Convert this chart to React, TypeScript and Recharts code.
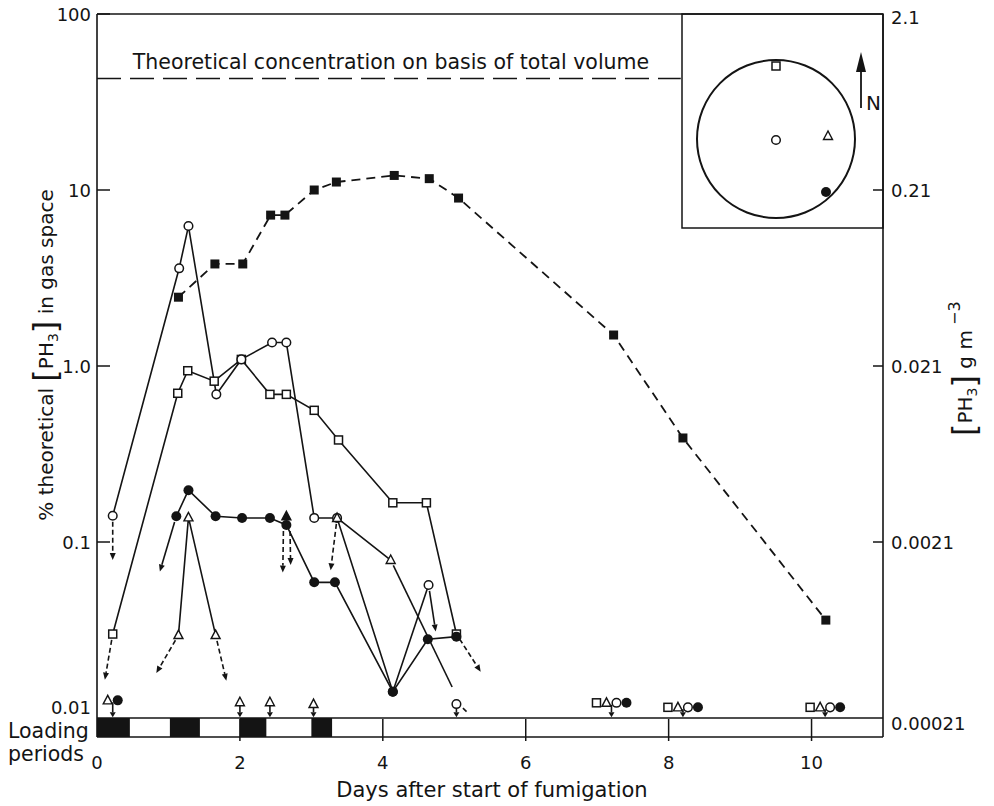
import React from "react";
import {
  ComposedChart,
  Line,
  Scatter,
  XAxis,
  YAxis,
  ReferenceLine,
  ReferenceArea,
  Customized,
} from "recharts";

const FONT = "'DejaVu Sans', 'Liberation Sans', sans-serif";
const INK = "#141414";

// days after start of fumigation / % of theoretical PH3 in gas space
const blackSquareDays = [1.14, 1.65, 2.04, 2.43, 2.63, 3.04, 3.35, 4.16, 4.65, 5.06, 7.23, 8.2, 10.2];
const blackSquareValues = [2.46, 3.8, 3.8, 7.2, 7.2, 10.0, 11.1, 12.1, 11.6, 9.0, 1.5, 0.39, 0.036];

const circleDays = [0.22, 1.15, 1.28, 1.67, 2.02, 2.45, 2.65, 3.04, 3.36, 4.14, 4.64];
const circleValues = [0.141, 3.59, 6.24, 0.69, 1.09, 1.36, 1.36, 0.137, 0.137, 0.0141, 0.057];

const squareDays = [0.22, 1.13, 1.27, 1.64, 2.02, 2.42, 2.65, 3.04, 3.38, 4.14, 4.61, 5.03];
const squareValues = [0.03, 0.7, 0.94, 0.82, 1.09, 0.69, 0.69, 0.56, 0.38, 0.167, 0.167, 0.03];

const triangleDays = [1.14, 1.28, 1.66, 2.2, 2.65, 3.0, 3.36, 4.11];
const triangleValues = [0.0296, 0.138, 0.0296, null, 0.14, null, 0.137, 0.079];
const triangleFilled = [false, false, false, false, true, false, false, false];

const dotDays = [1.11, 1.28, 1.66, 2.03, 2.42, 2.65, 3.04, 3.33, 4.14, 4.63, 5.03];
const dotValues = [0.14, 0.197, 0.14, 0.137, 0.137, 0.125, 0.059, 0.059, 0.0141, 0.028, 0.029];

// samples below detection limit
const ndDays = [0.22, 2.0, 2.42, 3.03, 5.03, 7.2, 8.2, 10.19];
const ndLevels = [0.0126, 0.0123, 0.0123, 0.012, 0.012, 0.0122, 0.0115, 0.0115];
const ndSymbols = [
  ["triangle", "dot"],
  ["triangle"],
  ["triangle"],
  ["triangle"],
  ["circle"],
  ["square", "triangle", "circle", "dot"],
  ["square", "triangle", "circle", "dot"],
  ["square", "triangle", "circle", "dot"],
];

// falls towards the detection limit
const arrowFromDays = [0.22, 0.22, 1.11, 1.14, 1.66, 2.61, 2.7, 3.36, 4.64, 4.11, 5.03, 5.06];
const arrowFromValues = [0.141, 0.03, 0.14, 0.0296, 0.0296, 0.125, 0.125, 0.137, 0.057, 0.079, 0.03, 0.012];
const arrowToDays = [0.22, 0.11, 0.88, 0.83, 1.81, 2.6, 2.71, 3.27, 4.74, 4.97, 5.37, 5.2];
const arrowToValues = [0.079, 0.0165, 0.068, 0.018, 0.0163, 0.067, 0.074, 0.069, 0.031, 0.015, 0.0183, 0.0106];
const arrowDashed = [true, true, false, true, true, true, true, true, false, false, true, true];
const arrowHead = [true, true, true, true, true, true, true, true, true, false, true, false];

// loading periods (days)
const loadStart = [0, 1.02, 2.0, 3.0];
const loadEnd = [0.46, 1.44, 2.37, 3.29];

const theoretical = 43;
const leftTicks = [0.01, 0.1, 1, 10, 100];
const leftTickLabels = ["0.01", "0.1", "1.0", "10", "100"];
const rightTicks = [0.00021, 0.0021, 0.021, 0.21, 2.1];
const rightTickLabels = ["0.00021", "0.0021", "0.021", "0.21", "2.1"];
const dayTicks = [0, 2, 4, 6, 8, 10];

const yMin = 0.0078;
const yMax = 100;

const toPoints = (xs: number[], ys: (number | null)[]) => xs.map((x, i) => ({ x, y: ys[i] }));

const blackSquareData = toPoints(blackSquareDays, blackSquareValues);
const circleData = toPoints(circleDays, circleValues);
const squareData = toPoints(squareDays, squareValues);
const triangleData = triangleDays.map((x, i) => ({ x, y: triangleValues[i], filled: triangleFilled[i] }));
const dotData = toPoints(dotDays, dotValues);
const ndData = ndDays.map((x, i) => ({ x, y: ndLevels[i], syms: ndSymbols[i] }));

const Marker = ({ kind, cx, cy }: any) => {
  if (kind === "circle")
    return <circle cx={cx} cy={cy} r={4.3} fill="#fff" stroke={INK} strokeWidth={1.5} />;
  if (kind === "dot") return <circle cx={cx} cy={cy} r={5} fill={INK} />;
  if (kind === "square")
    return <rect x={cx - 4} y={cy - 4} width={8} height={8} fill="#fff" stroke={INK} strokeWidth={1.5} />;
  if (kind === "blacksquare")
    return <rect x={cx - 4.5} y={cy - 4.5} width={9} height={9} fill={INK} />;
  return (
    <polygon
      points={`${cx},${cy - 5} ${cx - 4.5},${cy + 3.5} ${cx + 4.5},${cy + 3.5}`}
      fill={kind === "filledtriangle" ? INK : "#fff"}
      stroke={INK}
      strokeWidth={1.4}
    />
  );
};

const makeDot = (kind: string) => (p: any) => {
  if (p.cy == null || p.value == null) return <g key={`e-${kind}-${p.index}`} />;
  const k = kind === "triangle" && p.payload && p.payload.filled ? "filledtriangle" : kind;
  return <Marker key={`m-${kind}-${p.index}`} kind={k} cx={p.cx} cy={p.cy} />;
};

const NdGroup = (p: any) => {
  const syms: string[] = p.payload.syms;
  const start = p.cx - ((syms.length - 1) * 10) / 2;
  return (
    <g>
      {syms.map((s, i) => (
        <Marker key={i} kind={s} cx={start + i * 10} cy={p.cy} />
      ))}
    </g>
  );
};

const ArrowShape = ({ x1, y1, x2, y2, dashed, head, trim, headLen = 7 }: any) => {
  const dx = x2 - x1;
  const dy = y2 - y1;
  const len = Math.hypot(dx, dy) || 1;
  const ux = dx / len;
  const uy = dy / len;
  const sx = x1 + ux * trim;
  const sy = y1 + uy * trim;
  const hl = head ? headLen : 0;
  const ex = x2 - ux * hl;
  const ey = y2 - uy * hl;
  return (
    <g>
      <line
        x1={sx}
        y1={sy}
        x2={ex}
        y2={ey}
        stroke={INK}
        strokeWidth={1.6}
        strokeDasharray={dashed ? "5 3" : undefined}
      />
      {head && (
        <polygon
          points={`${x2},${y2} ${ex - uy * 3},${ey + ux * 3} ${ex + uy * 3},${ey - ux * 3}`}
          fill={INK}
        />
      )}
    </g>
  );
};

const LeftTick = (props: any) => {
  const { x, y, payload } = props;
  const i = leftTicks.findIndex((t) => Math.abs(t - payload.value) / t < 1e-6);
  const axisX = x + 5;
  return (
    <g>
      {i > 0 && <line x1={axisX} x2={axisX + 13} y1={y} y2={y} stroke={INK} strokeWidth={1.5} />}
      <text x={x - 1} y={i === 0 ? y - 4 : y + 6.5} textAnchor="end" fontSize={18} fontFamily={FONT} fill={INK}>
        {leftTickLabels[i]}
      </text>
    </g>
  );
};

const RightTick = (props: any) => {
  const { x, y, payload } = props;
  const i = rightTicks.findIndex((t) => Math.abs(t - payload.value) / t < 1e-6);
  const axisX = x - 8;
  return (
    <g>
      {i > 0 && i < rightTicks.length - 1 && (
        <line x1={axisX - 10} x2={axisX} y1={y} y2={y} stroke={INK} strokeWidth={1.5} />
      )}
      <text x={x} y={y + (i === 0 ? 12 : i === rightTicks.length - 1 ? 10 : 7)} textAnchor="start" fontSize={18} fontFamily={FONT} fill={INK}>
        {rightTickLabels[i]}
      </text>
    </g>
  );
};

const BottomTick = (props: any) => {
  const { x, y, payload } = props;
  return (
    <g>
      {payload.value > 0 && <line x1={x} x2={x} y1={y - 18} y2={y + 4} stroke={INK} strokeWidth={1.5} />}
      <text x={x} y={y + 32} textAnchor="middle" fontSize={18} fontFamily={FONT} fill={INK}>
        {payload.value}
      </text>
    </g>
  );
};

const Overlay = () => (
  <g fontFamily={FONT} fill={INK}>
    <text x={391} y={69} textAnchor="middle" fontSize={20.5}>
      Theoretical concentration on basis of total volume
    </text>
    <text x={492} y={797} textAnchor="middle" fontSize={21}>
      Days after start of fumigation
    </text>
    <text x={8} y={738} fontSize={20.5}>
      Loading
    </text>
    <text x={8} y={761} fontSize={20.5}>
      periods
    </text>
    <text transform="translate(53,355) rotate(-90)" textAnchor="middle" fontSize={20}>
      % theoretical <tspan fontSize={32} dy={3}>[</tspan>
      <tspan dy={-3}>PH</tspan>
      <tspan fontSize={14} dy={5}>3</tspan>
      <tspan fontSize={32} dy={-2}>]</tspan>
      <tspan dy={-3}> in gas space</tspan>
    </text>
    <text transform="translate(972,436) rotate(-90)" textAnchor="start" fontSize={20}>
      <tspan fontSize={32} dy={3}>[</tspan>
      <tspan dy={-3}>PH</tspan>
      <tspan fontSize={14} dy={5}>3</tspan>
      <tspan fontSize={32} dy={-2}>]</tspan>
      <tspan dy={-3}> g m</tspan>
      <tspan fontSize={16} dy={-12}> −3</tspan>
    </text>
    {/* site map inset */}
    <rect x={682} y={14} width={201} height={214} fill="#fff" stroke={INK} strokeWidth={1.5} />
    <circle cx={776} cy={139} r={79} fill="none" stroke={INK} strokeWidth={2} />
    <Marker kind="square" cx={776} cy={66} />
    <Marker kind="circle" cx={776} cy={140} />
    <Marker kind="triangle" cx={828} cy={136} />
    <Marker kind="dot" cx={826} cy={192} />
    <line x1={861} x2={861} y1={68} y2={108} stroke={INK} strokeWidth={1.8} />
    <polygon points="861,52 856,72 866,72" fill={INK} />
    <text x={866} y={110} fontSize={20}>
      N
    </text>
  </g>
);

export default function App() {
  return (
    <div style={{ position: "absolute", left: 0, top: 0, width: 994, height: 806, background: "#fff" }}>
      <ComposedChart width={994} height={806} margin={{ top: 14, right: 21, bottom: 29, left: 47 }}>
        <XAxis
          dataKey="x"
          type="number"
          domain={[0, 11]}
          ticks={dayTicks}
          allowDataOverflow
          height={40}
          tickSize={0}
          tickMargin={0}
          tick={<BottomTick />}
          axisLine={{ stroke: INK, strokeWidth: 1.6 }}
        />
        <YAxis
          type="number"
          scale="log"
          domain={[yMin, yMax]}
          ticks={leftTicks}
          allowDataOverflow
          width={50}
          tickSize={0}
          tickMargin={5}
          tick={<LeftTick />}
          axisLine={{ stroke: INK, strokeWidth: 1.6 }}
        />
        <YAxis
          yAxisId="right"
          orientation="right"
          type="number"
          scale="log"
          domain={[yMin * 0.021, yMax * 0.021]}
          ticks={rightTicks}
          allowDataOverflow
          width={90}
          tickSize={0}
          tickMargin={8}
          tick={<RightTick />}
          axisLine={{ stroke: INK, strokeWidth: 1.6 }}
        />
        {loadStart.map((s, i) => (
          <ReferenceArea
            key={`load-${i}`}
            x1={s}
            x2={loadEnd[i]}
            y1={yMin}
            y2={0.01}
            fill={INK}
            fillOpacity={1}
            stroke="none"
            ifOverflow="visible"
          />
        ))}
        <ReferenceLine y={0.01} stroke={INK} strokeWidth={1.6} ifOverflow="visible" />
        <ReferenceLine y={yMax} stroke={INK} strokeWidth={1.6} ifOverflow="visible" />
        <ReferenceLine
          segment={[
            { x: 0, y: theoretical },
            { x: 8.17, y: theoretical },
          ]}
          stroke={INK}
          strokeWidth={1.6}
          strokeDasharray="24 9"
          ifOverflow="visible"
        />
        {arrowFromDays.map((x, i) => (
          <ReferenceLine
            key={`arrow-${i}`}
            segment={[
              { x, y: arrowFromValues[i] },
              { x: arrowToDays[i], y: arrowToValues[i] },
            ]}
            ifOverflow="visible"
            shape={(p: any) => (
              <ArrowShape {...p} dashed={arrowDashed[i]} head={arrowHead[i]} trim={6} />
            )}
          />
        ))}
        {ndDays.map((x, i) => (
          <ReferenceLine
            key={`nd-${i}`}
            segment={[
              { x, y: ndLevels[i] },
              { x, y: 0.0101 },
            ]}
            ifOverflow="visible"
            shape={(p: any) => <ArrowShape {...p} dashed={false} head trim={2} headLen={5} />}
          />
        ))}
        <Line
          data={blackSquareData}
          dataKey="y"
          type="linear"
          stroke={INK}
          strokeWidth={1.8}
          strokeDasharray="9 6"
          dot={makeDot("blacksquare")}
          activeDot={false}
          isAnimationActive={false}
        />
        <Line
          data={squareData}
          dataKey="y"
          type="linear"
          stroke={INK}
          strokeWidth={1.6}
          dot={makeDot("square")}
          activeDot={false}
          isAnimationActive={false}
        />
        <Line
          data={circleData}
          dataKey="y"
          type="linear"
          stroke={INK}
          strokeWidth={1.6}
          dot={makeDot("circle")}
          activeDot={false}
          isAnimationActive={false}
        />
        <Line
          data={dotData}
          dataKey="y"
          type="linear"
          stroke={INK}
          strokeWidth={1.6}
          dot={makeDot("dot")}
          activeDot={false}
          isAnimationActive={false}
        />
        <Line
          data={triangleData}
          dataKey="y"
          type="linear"
          stroke={INK}
          strokeWidth={1.6}
          dot={makeDot("triangle")}
          activeDot={false}
          isAnimationActive={false}
        />
        <Scatter data={ndData} dataKey="y" shape={(p: any) => <NdGroup {...p} />} isAnimationActive={false} />
        <Customized component={<Overlay />} />
      </ComposedChart>
    </div>
  );
}
